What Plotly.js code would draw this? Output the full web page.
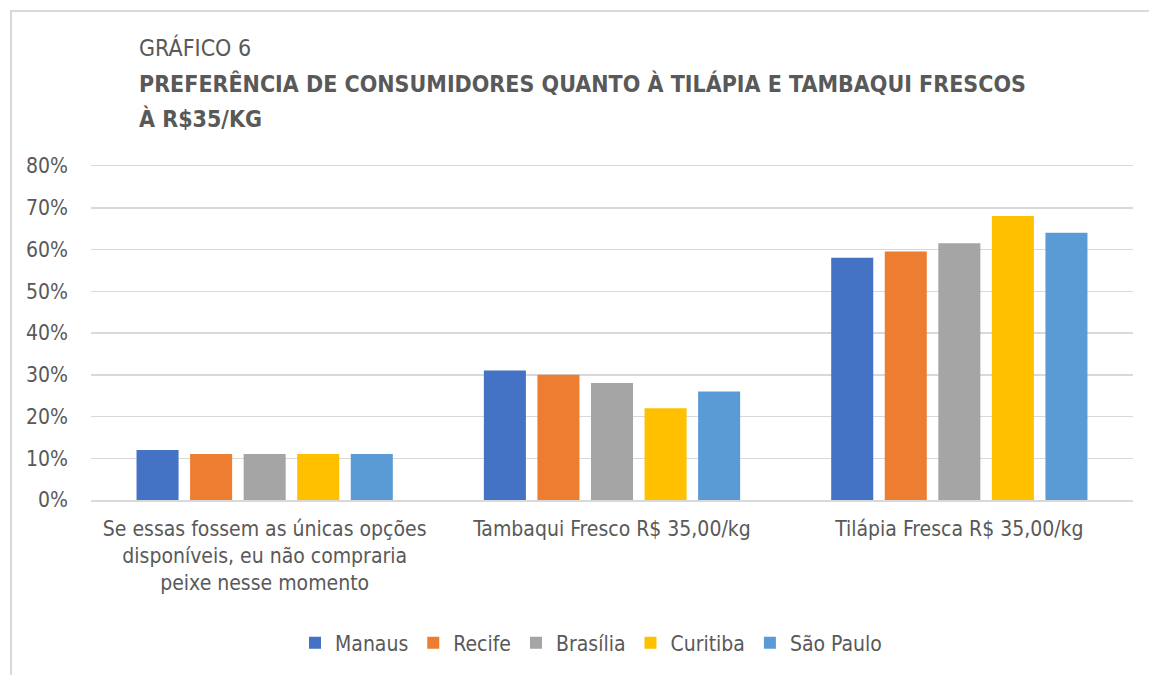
<!DOCTYPE html>
<html><head><meta charset="utf-8">
<script src="https://cdn.plot.ly/plotly-3.0.1.min.js"></script>
<style>
html,body{margin:0;padding:0;background:#fff;}
#wrap{position:relative;width:1149px;height:675px;overflow:hidden;}
#frame{position:absolute;left:10px;top:10px;width:1200px;height:700px;border-left:2px solid #d9d9d9;border-top:2px solid #d9d9d9;pointer-events:none;}
#chart{position:absolute;left:0;top:0;width:1149px;height:675px;}
</style></head>
<body><div id="wrap"><div id="chart"></div><div id="frame"></div></div>
<script>
const categories = [
  "Se essas fossem as únicas opções<br>disponíveis, eu não compraria<br>peixe nesse momento",
  "Tambaqui Fresco R$ 35,00/kg",
  "Tilápia Fresca R$ 35,00/kg"
];
const cities = ["Manaus", "Recife", "Brasília", "Curitiba", "São Paulo"];
const manaus   = [12, 31, 58];
const recife   = [11, 30, 59.5];
const brasilia = [11, 28, 61.5];
const curitiba = [11, 22, 68];
const saoPaulo = [11, 26, 64];
const seriesValues = [manaus, recife, brasilia, curitiba, saoPaulo];
const colors = ["#4472C4", "#ED7D31", "#A5A5A5", "#FFC000", "#5B9BD5"];
const yTicks = [0, 10, 20, 30, 40, 50, 60, 70, 80];
const titleLine1 = "GRÁFICO 6";
const titleLine2 = "PREFERÊNCIA DE CONSUMIDORES QUANTO À TILÁPIA E TAMBAQUI FRESCOS";
const titleLine3 = "À R$35/KG";

const FONT = "'Liberation Sans Narrow', 'DejaVu Sans Condensed', 'Open Sans', sans-serif";
const TXT = "#595959";

const traces = cities.map((c, i) => ({
  type: "bar", name: c, x: categories, y: seriesValues[i],
  marker: {color: colors[i]}, hoverinfo: "skip"
}));

const L = 91, R = 16, T = 166, B = 175, H = 675 - T - B;
const py = y => (675 - B - y) / H;
const px = x => (x - L) / (1149 - L - R);

const layout = {
  width: 1149, height: 675,
  margin: {l: L, r: R, t: T, b: B, pad: 0},
  paper_bgcolor: "#fff", plot_bgcolor: "#fff",
  font: {family: FONT, color: TXT, size: 21},
  barmode: "group", bargap: 0.229, bargroupgap: 0.215,
  showlegend: true,
  legend: {orientation: "h", x: px(591), xanchor: "center", y: py(643), yanchor: "middle",
           font: {size: 21, color: TXT}, traceorder: "normal", itemwidth: 30},
  xaxis: {type: "category", showgrid: false, showline: true, mirror: true, linecolor: "#d9d9d9", linewidth: 1.5,
          ticks: "", tickfont: {size: 21, color: TXT}, automargin: false, ticklabelstandoff: 9},
  yaxis: {range: [0, 80], tickvals: yTicks, ticktext: yTicks.map(v => v + "%"),
          showgrid: true, gridcolor: "#d9d9d9", gridwidth: 1.5, zeroline: false,
          showline: false, ticks: "", tickfont: {size: 21, color: TXT}, automargin: false,
          ticklabelstandoff: 22},
  annotations: [
    {text: titleLine1, xref: "paper", yref: "paper", x: px(137), y: py(47), xanchor: "left", yanchor: "middle",
     showarrow: false, font: {size: 23, color: TXT, family: FONT}},
    {text: "<b>" + titleLine2 + "</b>", xref: "paper", yref: "paper", x: px(137), y: py(83), xanchor: "left", yanchor: "middle",
     showarrow: false, font: {size: 23, color: TXT, family: FONT}},
    {text: "<b>" + titleLine3 + "</b>", xref: "paper", yref: "paper", x: px(137), y: py(118), xanchor: "left", yanchor: "middle",
     showarrow: false, font: {size: 23, color: TXT, family: FONT}}
  ]
};
Plotly.newPlot("chart", traces, layout, {displayModeBar: false, staticPlot: true});
</script></body></html>
